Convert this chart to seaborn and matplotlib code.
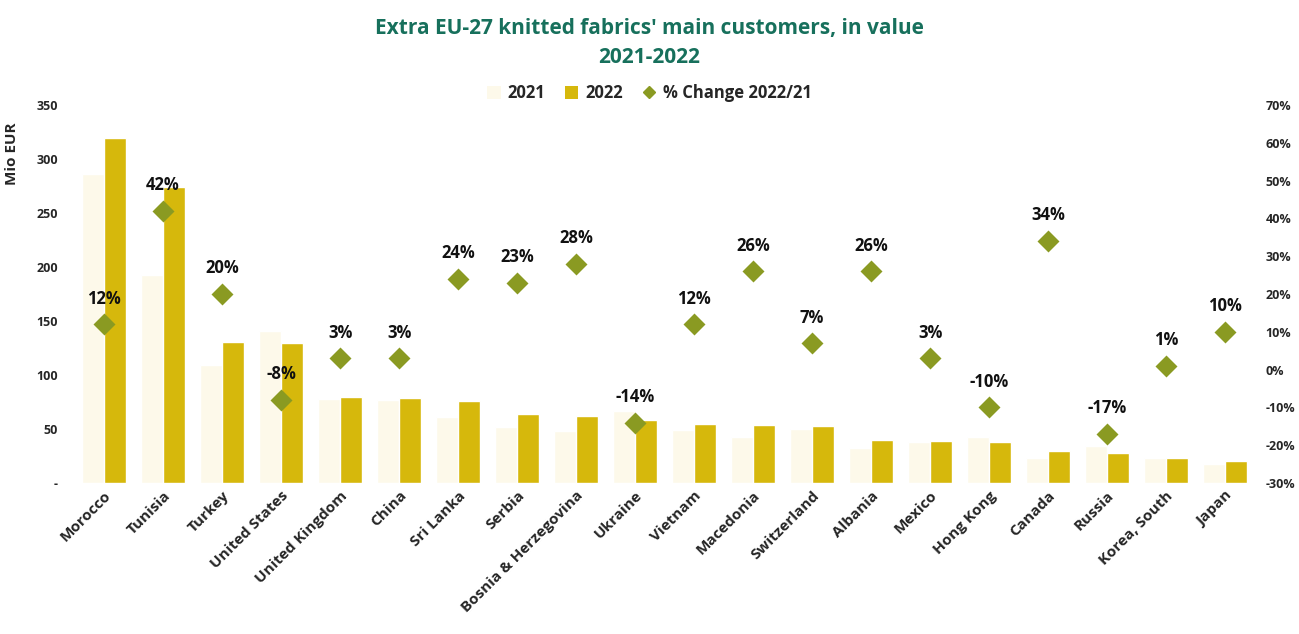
import pandas as pd
import matplotlib
matplotlib.use('Agg')
import matplotlib.pyplot as plt
import seaborn as sns
from matplotlib.patches import Patch
from matplotlib.lines import Line2D

countries = ['Morocco', 'Tunisia', 'Turkey', 'United States', 'United Kingdom', 'China',
             'Sri Lanka', 'Serbia', 'Bosnia & Herzegovina', 'Ukraine', 'Vietnam', 'Macedonia',
             'Switzerland', 'Albania', 'Mexico', 'Hong Kong', 'Canada', 'Russia',
             'Korea, South', 'Japan']
v2021 = [286, 193, 109, 141, 78, 77, 61, 52, 48, 67, 49, 43, 50, 32, 38, 43, 23, 34, 23, 18]
v2022 = [320, 274, 131, 130, 80, 79, 76, 64, 62, 58, 55, 54, 53, 40, 39, 38, 30, 28, 23, 20]
pct = [12, 42, 20, -8, 3, 3, 24, 23, 28, -14, 12, 26, 7, 26, 3, -10, 34, -17, 1, 10]
left_ticks = [0, 50, 100, 150, 200, 250, 300, 350]
left_labels = ['-', '50', '100', '150', '200', '250', '300', '350']
right_ticks = [-30, -20, -10, 0, 10, 20, 30, 40, 50, 60, 70]

c2021 = '#FDF9EA'
c2022 = '#D6B80C'
cpct = '#8A9A22'
title_col = '#17705C'

sns.set_style('white')
plt.rcParams['font.family'] = ['Liberation Sans Narrow', 'Open Sans', 'DejaVu Sans']
plt.rcParams['font.weight'] = 'bold'

df = pd.DataFrame({'country': countries * 2,
                   'year': ['2021'] * len(countries) + ['2022'] * len(countries),
                   'value': v2021 + v2022})
dp = pd.DataFrame({'country': countries, 'pct': pct})

fig = plt.figure(figsize=(12.99, 6.34), dpi=100)
ax = fig.add_axes([0.0574, 0.2382, 0.9084, 0.596])
sns.barplot(data=df, x='country', y='value', hue='year', order=countries,
            palette={'2021': c2021, '2022': c2022}, width=0.74, ax=ax, legend=False,
            saturation=1)
ax.set_ylim(0, 350)
ax.set_xlim(-0.5, len(countries) - 0.5)
ax.set_yticks(left_ticks)
ax.set_yticklabels(left_labels, fontsize=9, fontweight='bold')
ax.set_xlabel('')
ax.set_ylabel('Mio EUR', fontsize=11, fontweight='bold')
ax.yaxis.set_label_coords(-0.047, 0.87)
ax.set_xticks(range(len(countries)))
ax.set_xticklabels(countries, rotation=45, ha='right', rotation_mode='anchor',
                   fontsize=11, fontweight='bold')
ax.tick_params(axis='both', length=0, pad=12)
ax.tick_params(axis='x', pad=4)
sns.despine(ax=ax, left=True, bottom=True)

ax2 = ax.twinx()
sns.pointplot(data=dp, x='country', y='pct', order=countries, linestyle='none',
              marker='D', markersize=9, color=cpct, ax=ax2)
ax2.set_ylim(-30, 70)
ax2.set_yticks(right_ticks)
ax2.set_yticklabels([f'{t}%' for t in right_ticks], fontsize=9, fontweight='bold')
ax2.set_ylabel('')
ax2.tick_params(axis='y', length=0, pad=8)
sns.despine(ax=ax2, left=True, bottom=True, right=True)
for i, p in enumerate(pct):
    ax2.annotate(f'{p}%', (i, p), xytext=(0, 12), textcoords='offset points',
                 ha='center', va='bottom', fontsize=12, fontweight='bold', color='#111111')

fig.text(0.5, 0.955, "Extra EU-27 knitted fabrics' main customers, in value",
         ha='center', va='center', fontsize=15, fontweight='bold', color=title_col)
fig.text(0.5, 0.91, '2021-2022', ha='center', va='center', fontsize=15,
         fontweight='bold', color=title_col)

handles = [Patch(facecolor=c2021, edgecolor='none', label='2021'),
           Patch(facecolor=c2022, edgecolor='none', label='2022'),
           Line2D([], [], marker='D', color=cpct, linestyle='none', markersize=6,
                  label='% Change 2022/21')]
fig.legend(handles=handles, loc='center', bbox_to_anchor=(0.5, 0.853), ncol=3,
           frameon=False, handlelength=0.8, handleheight=0.8,
           columnspacing=1.2, handletextpad=0.4, prop={'weight': 'bold', 'size': 12})

fig.savefig('out.png', dpi=100)
